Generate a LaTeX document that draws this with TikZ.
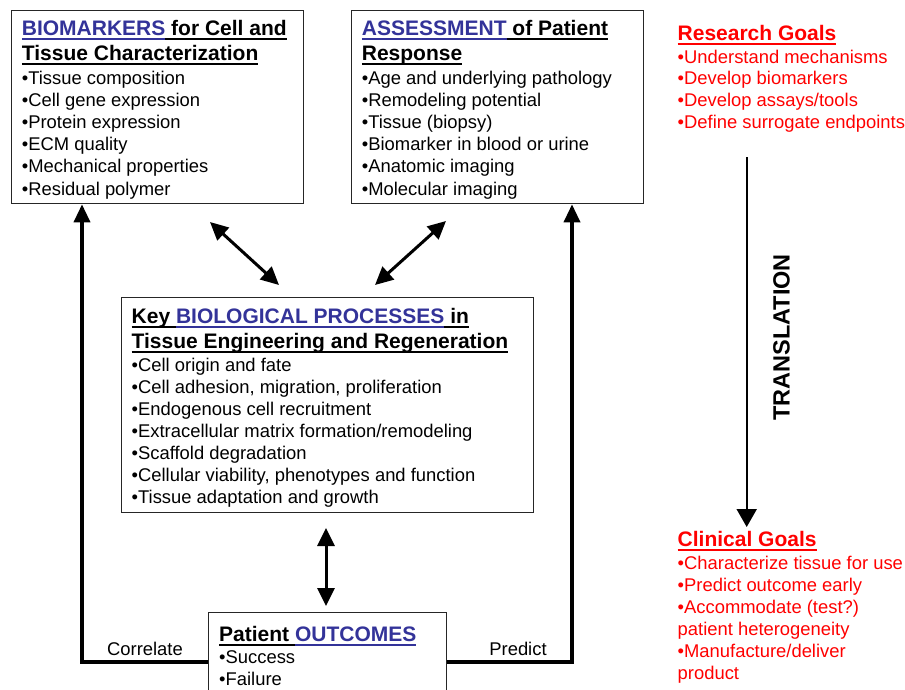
\documentclass[tikz,border=0pt]{standalone}
\usepackage{fontspec}
\setmainfont{Liberation Sans}
\usetikzlibrary{arrows.meta}
\definecolor{ublue}{RGB}{51,51,153}
\definecolor{ured}{RGB}{255,0,0}
\newcommand\myul[1]{\leavevmode\setbox0\hbox{#1}\rlap{\vrule height -2.6pt depth 4.6pt width \wd0}\box0}
\newcommand\bul[1]{{\color{ublue}\myul{#1}}}
\tikzset{
  box/.style={draw=black!85, line width=1.3pt, inner sep=0pt, anchor=north west},
  head/.style={font=\fontsize{21}{25}\selectfont\bfseries, inner sep=0pt, anchor=base west},
  item/.style={font=\fontsize{18.4}{22}\selectfont, inner sep=0pt, anchor=base west},
  loopline/.style={line width=3.5pt, -{Triangle[length=18pt,width=16pt]}},
  dbl/.style={line width=3pt, {Triangle[length=18pt,width=17pt]}-{Triangle[length=18pt,width=17pt]}},
  trarrow/.style={line width=2pt, -{Triangle[length=18pt,width=20pt]}},
}
\begin{document}
\begin{tikzpicture}[x=1pt,y=-1pt]
\useasboundingbox (0,0) rectangle (905,689);
\clip (0,0) rectangle (905,689);
% boxes
\node[box, minimum width=292pt, minimum height=193pt] (bio) at (11,10) {};
\node[box, minimum width=292pt, minimum height=193pt] (ass) at (351,10) {};
\node[box, minimum width=412pt, minimum height=215pt] (key) at (121,297) {};
\node[box, minimum width=238pt, minimum height=110pt] (out) at (208,612) {};
% box 1
\node[head] (bioh1) at (21.7,35) {\bul{BIOMARKERS}\myul{ for Cell and}};
\node[head] (bioh2) at (21.7,60) {\myul{Tissue Characterization}};
\foreach[count=\i] \t in {Tissue composition, Cell gene expression, Protein expression, ECM quality, Mechanical properties, Residual polymer}
  \node[item] (bioi\i) at (21.7,{84+22.2*(\i-1)}) {•\t};
% box 2
\node[head] (assh1) at (361.7,35) {\bul{ASSESSMENT}\myul{ of Patient}};
\node[head] (assh2) at (361.7,60) {\myul{Response}};
\foreach[count=\i] \t in {Age and underlying pathology, Remodeling potential, Tissue (biopsy), Biomarker in blood or urine, Anatomic imaging, Molecular imaging}
  \node[item] (assi\i) at (361.7,{84+22.2*(\i-1)}) {•\t};
% box 3
\node[head] (keyh1) at (131.5,323) {\myul{Key }\bul{BIOLOGICAL PROCESSES}\myul{ in}};
\node[head] (keyh2) at (131.5,348) {\myul{Tissue Engineering and Regeneration}};
\foreach[count=\i] \t in {Cell origin and fate, {Cell adhesion, migration, proliferation}, Endogenous cell recruitment, Extracellular matrix formation/remodeling, Scaffold degradation, {Cellular viability, phenotypes and function}, Tissue adaptation and growth}
  \node[item] (keyi\i) at (131.5,{371+22*(\i-1)}) {•\t};
% box 4
\node[head] (outh) at (219,641) {\myul{Patient }\bul{OUTCOMES}};
\node[item] (outi1) at (219,663) {•Success};
\node[item] (outi2) at (219,685) {•Failure};
% loops
\coordinate (cl) at (82,662);
\coordinate (cr) at (572,662);
\draw[loopline] (out.west |- cl) -| (bio.south -| cl);
\draw[loopline] (out.east |- cr) -| (ass.south -| cr);
\node[item, anchor=base] (corr) at (145,655) {Correlate};
\node[item, anchor=base] (pred) at (518,655) {Predict};
% double arrows
\coordinate (d1a) at (210,222);
\coordinate (d1b) at (279,285);
\coordinate (d2a) at (446,221);
\coordinate (d2b) at (375,285);
\coordinate (d3a) at (326,528);
\coordinate (d3b) at (326,606);
\draw[dbl] (d1a) -- (d1b);
\draw[dbl] (d2a) -- (d2b);
\draw[dbl] (d3a) -- (d3b);
% research goals
\node[head, text=ured] (rgh) at (677.5,40) {\myul{Research Goals}};
\foreach[count=\i] \t in {Understand mechanisms, Develop biomarkers, Develop assays/tools, Define surrogate endpoints}
  \node[item, text=ured] (rgi\i) at (677.5,{63+21.7*(\i-1)}) {•\t};
% translation
\coordinate (t1) at (746.7,157);
\coordinate (t2) at (746.7,527);
\draw[trarrow] (t1) -- (t2);
\node[font=\fontsize{23.5}{28}\selectfont\bfseries, rotate=90, inner sep=0pt] (trans) at (781.5,337.5) {TRANSLATION};
% clinical goals
\node[head, text=ured] (cgh) at (677.5,546) {\myul{Clinical Goals}};
\node[item, text=ured] (cgi1) at (677.5,569) {•Characterize tissue for use};
\node[item, text=ured] (cgi2) at (677.5,591) {•Predict outcome early};
\node[item, text=ured] (cgi3) at (677.5,613) {•Accommodate (test?)};
\node[item, text=ured] (cgi4) at (677.5,635) {patient heterogeneity};
\node[item, text=ured] (cgi5) at (677.5,657) {•Manufacture/deliver};
\node[item, text=ured] (cgi6) at (677.5,679) {product};
\end{tikzpicture}
\end{document}
